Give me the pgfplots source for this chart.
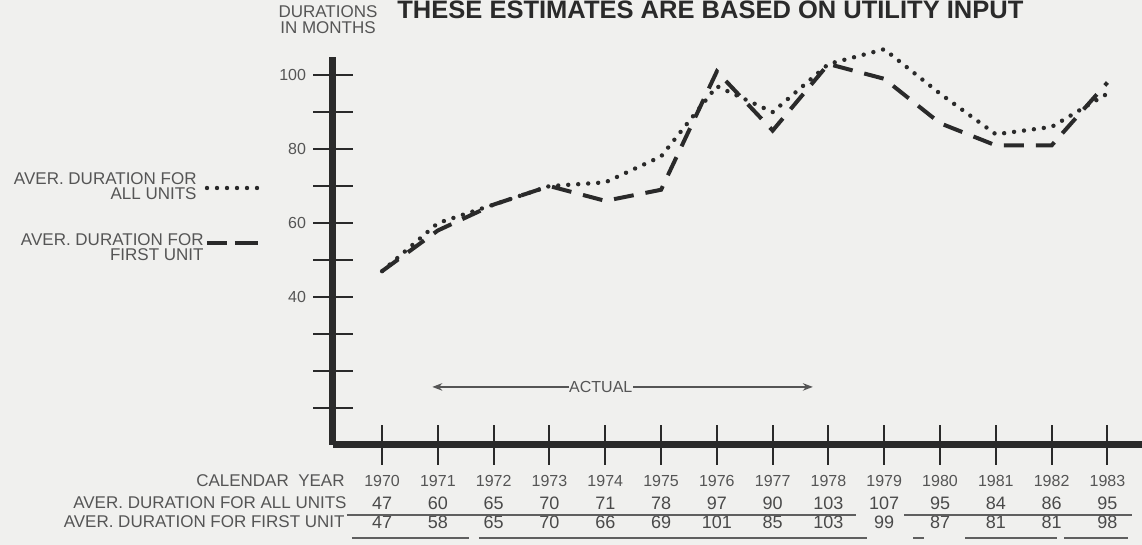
\documentclass[border=0pt]{standalone}
\usepackage{fontspec}
\setmainfont{Liberation Sans}
\usepackage{pgfplots}
\pgfplotsset{compat=1.18}
\usepackage{pgfplotstable}
\usetikzlibrary{arrows.meta}

\definecolor{ink}{HTML}{2A2A2A}
\definecolor{txt}{HTML}{555555}
\definecolor{paper}{HTML}{F0F0EE}

% durations in months
\pgfplotstableread{
year all first
1970 47  47
1971 60  58
1972 65  65
1973 70  70
1974 71  66
1975 78  69
1976 97  101
1977 90  85
1978 103 103
1979 107 99
1980 95  87
1981 84  81
1982 86  81
1983 95  98
}\durations

\begin{document}
\begin{tikzpicture}
\useasboundingbox (-166.5pt,-50pt) rectangle (404.5pt,222.5pt);
\fill[paper] (-166.5pt,-50pt) rectangle (404.5pt,222.5pt);
\begin{axis}[
  scale only axis, width=404.5pt, height=194pt,
  xmin=1969.12, xmax=1983.62, ymin=0, ymax=104.9,
  axis lines=left,
  axis line style={ink, line width=3.5pt, -},
  xtick={1970,...,1983}, xticklabels={},
  ytick={10,20,...,100}, yticklabels={,,,40,,60,,80,,100},
  tick align=center, major tick length=20pt,
  tick style={ink, line width=1pt},
  yticklabel style={text=txt, anchor=east},
  font=\fontsize{8}{9}\selectfont,
  clip=false,
]
\addplot[ink, line width=2.2pt, line cap=round, dash pattern=on 0pt off 5pt]
  table[x=year, y=all] {\durations};
\addplot[ink, line width=2pt, dash pattern=on 10pt off 6pt]
  table[x=year, y=first] {\durations};

% table rows under the axis
\addplot[draw=none, nodes near coords, point meta=explicit symbolic,
  every node near coord/.append style={anchor=center, text=txt, font=\fontsize{8}{9}\selectfont}]
  table[x=year, y expr=-9.7, meta=year] {\durations};
\addplot[draw=none, nodes near coords, point meta=explicit symbolic,
  every node near coord/.append style={anchor=center, text=ink!85, font=\fontsize{9}{10}\selectfont}]
  table[x=year, y expr=-15.7, meta=all] {\durations};
\addplot[draw=none, nodes near coords, point meta=explicit symbolic,
  every node near coord/.append style={anchor=center, text=ink!85, font=\fontsize{9}{10}\selectfont}]
  table[x=year, y expr=-20.8, meta=first] {\durations};

% actual period
\draw[ink!80, line width=0.8pt, -{Stealth[length=5pt]}] (axis cs:1973.35,15.7) -- (axis cs:1970.9,15.7);
\draw[ink!80, line width=0.8pt, -{Stealth[length=5pt]}] (axis cs:1974.5,15.7) -- (axis cs:1977.72,15.7);
\node[text=txt, font=\fontsize{8}{9}\selectfont] at (axis cs:1973.92,15.7) {ACTUAL};
\end{axis}

\node[anchor=south west, inner sep=0, text=ink] at (32pt,213pt)
  {\resizebox{313pt}{8.8pt}{\bfseries THESE ESTIMATES ARE BASED ON UTILITY INPUT}};
\node[align=center, text=txt, font=\fontsize{8.5}{8}\selectfont, inner sep=0] at (-2.5pt,212.5pt)
  {DURATIONS\\IN MONTHS};

% legend at the left
\begin{scope}[font=\fontsize{8.5}{7.5}\selectfont, text=txt]
\node[anchor=east, align=right, inner sep=0] at (-68pt,129.5pt) {AVER. DURATION FOR\\ALL UNITS};
\draw[ink, line width=2.2pt, line cap=round, dash pattern=on 0pt off 5pt] (-63pt,128.5pt) -- (-37.5pt,128.5pt);
\node[anchor=east, align=right, inner sep=0] at (-64.5pt,99pt) {AVER. DURATION FOR\\FIRST UNIT};
\draw[ink, line width=2pt] (-63pt,101pt) -- (-53pt,101pt) (-49pt,101pt) -- (-37.5pt,101pt);
\end{scope}

% row labels and underlines of the table
\begin{scope}[font=\fontsize{8.5}{9}\selectfont, text=txt]
\node[anchor=east, inner sep=0] at (6pt,-18pt) {CALENDAR\ \ YEAR};
\node[anchor=east, inner sep=0] at (7pt,-29pt) {AVER. DURATION FOR ALL UNITS};
\node[anchor=east, inner sep=0] at (6pt,-38.5pt) {AVER. DURATION FOR FIRST UNIT};
\end{scope}
\draw[ink!75, line width=0.8pt] (7pt,-35pt) -- (261.5pt,-35pt) (285.5pt,-35pt) -- (399.5pt,-35pt);
\draw[ink!75, line width=0.8pt] (9.5pt,-46.5pt) -- (68pt,-46.5pt) (73pt,-46.5pt) -- (267pt,-46.5pt)
  (290pt,-46.5pt) -- (295.5pt,-46.5pt) (316pt,-46.5pt) -- (362pt,-46.5pt) (365.5pt,-46.5pt) -- (397.5pt,-46.5pt);
\end{tikzpicture}
\end{document}
